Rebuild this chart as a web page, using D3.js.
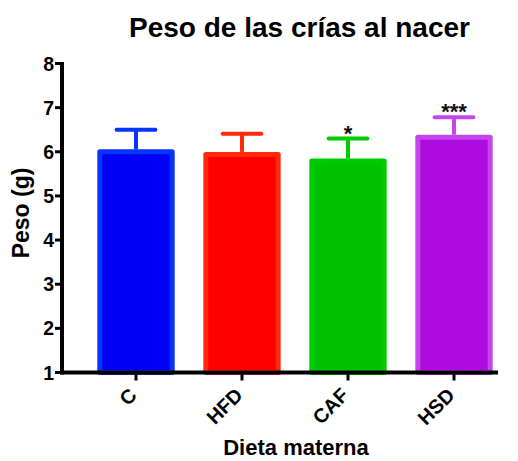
<!DOCTYPE html>
<html>
<head>
<meta charset="utf-8">
<script src="https://cdn.jsdelivr.net/npm/d3@7"></script>
<style>
  html, body { margin: 0; padding: 0; background: #fff; }
  svg { display: block; font-family: "Liberation Sans", Arial, sans-serif; }
</style>
</head>
<body>
<svg id="chart" width="518" height="461"></svg>
<script>
// Birth weight of pups by maternal diet
const categories = ["C", "HFD", "CAF", "HSD"];
const means = [6.0, 5.94, 5.79, 6.33];
const errors = [0.5, 0.47, 0.51, 0.45];
const significance = ["", "", "*", "***"];
const fillColors = ["#0000F2", "#FF0000", "#00C200", "#AD0CE0"];
const strokeColors = ["#0533FF", "#FF2A0A", "#00CC00", "#C445EA"];
const yTicks = [1, 2, 3, 4, 5, 6, 7, 8];

const svg = d3.select("#chart");

const y = d3.scaleLinear().domain([1, 8]).range([372.5, 63.5]);
const x = d3.scaleBand().domain(categories).range([83, 507])
  .paddingInner(0.27).paddingOuter(0.135);

const axisX0 = 62, axisX1 = 498;

// Bars
const bars = svg.append("g");
categories.forEach((c, i) => {
  const bw = x.bandwidth();
  const x0 = x(c);
  bars.append("rect")
    .attr("x", x0 + 2.5)
    .attr("y", y(means[i]))
    .attr("width", bw - 5)
    .attr("height", y(1) - y(means[i]))
    .attr("fill", fillColors[i])
    .attr("stroke", strokeColors[i])
    .attr("stroke-width", 5)
    .attr("stroke-linejoin", "round");

  // Error bar (upper only)
  const cx = x0 + bw / 2;
  const top = y(means[i] + errors[i]);
  bars.append("line")
    .attr("x1", cx).attr("x2", cx)
    .attr("y1", y(means[i]) - 2.5).attr("y2", top)
    .attr("stroke", strokeColors[i]).attr("stroke-width", 4);
  bars.append("line")
    .attr("x1", cx - bw / 4).attr("x2", cx + bw / 4)
    .attr("y1", top).attr("y2", top)
    .attr("stroke", strokeColors[i]).attr("stroke-width", 4)
    .attr("stroke-linecap", "round");

  if (significance[i]) {
    bars.append("text")
      .attr("x", cx)
      .attr("y", top + 2)
      .attr("text-anchor", "middle")
      .attr("font-size", 22)
      .attr("font-weight", "bold")
      .attr("fill", "#111")
      .text(significance[i]);
  }
});

// Y axis
const yAxis = svg.append("g");
yAxis.append("line")
  .attr("x1", axisX0).attr("x2", axisX0)
  .attr("y1", y(8) - 1.5).attr("y2", y(1) + 2)
  .attr("stroke", "#000").attr("stroke-width", 4);
yTicks.forEach(t => {
  yAxis.append("line")
    .attr("x1", axisX0 - 7).attr("x2", axisX0)
    .attr("y1", y(t)).attr("y2", y(t))
    .attr("stroke", "#000").attr("stroke-width", 3);
  yAxis.append("text")
    .attr("x", axisX0 - 8)
    .attr("y", y(t))
    .attr("dy", "0.36em")
    .attr("text-anchor", "end")
    .attr("font-size", 19.5)
    .attr("font-weight", "bold")
    .text(t);
});

// X axis
const xAxis = svg.append("g");
xAxis.append("line")
  .attr("x1", axisX0 - 2).attr("x2", axisX1)
  .attr("y1", y(1)).attr("y2", y(1))
  .attr("stroke", "#000").attr("stroke-width", 4);
categories.forEach(c => {
  const cx = x(c) + x.bandwidth() / 2;
  xAxis.append("line")
    .attr("x1", cx).attr("x2", cx)
    .attr("y1", y(1)).attr("y2", y(1) + 8)
    .attr("stroke", "#000").attr("stroke-width", 3);
  xAxis.append("text")
    .attr("transform", `translate(${cx - 3},${y(1) + 19}) rotate(-45)`)
    .attr("text-anchor", "end")
    .attr("dy", "0.35em")
    .attr("font-size", 20)
    .attr("font-weight", "bold")
    .text(c);
});

// Titles
svg.append("text")
  .attr("x", 299.5).attr("y", 37)
  .attr("text-anchor", "middle")
  .attr("font-size", 28)
  .attr("font-weight", "bold")
  .text("Peso de las crías al nacer");

svg.append("text")
  .attr("x", 296).attr("y", 455)
  .attr("text-anchor", "middle")
  .attr("font-size", 22)
  .attr("font-weight", "bold")
  .text("Dieta materna");

svg.append("text")
  .attr("transform", "translate(29,213) rotate(-90)")
  .attr("text-anchor", "middle")
  .attr("font-size", 23)
  .attr("font-weight", "bold")
  .text("Peso (g)");
</script>
</body>
</html>
